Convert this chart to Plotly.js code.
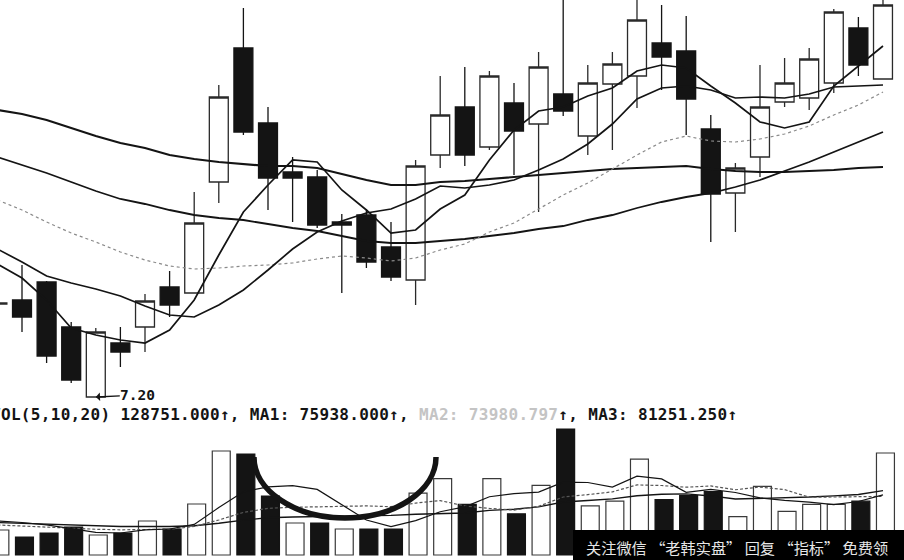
<!DOCTYPE html>
<html>
<head>
<meta charset="utf-8">
<script src="https://cdn.plot.ly/plotly-3.0.1.min.js"></script>
<style>
html,body{margin:0;padding:0;background:#fff;}
#chart{width:904px;height:560px;}
</style>
</head>
<body>
<div id="chart"></div>
<script>
// ---- data ----
const days = [0,1,2,3,4,5,6,7,8,9,10,11,12,13,14,15,16,17,18,19,20,21,22,23,24,25,26,27,28,29,30,31,32,33,34,35,36];
const open  = [8.13,8.17,8.35,7.90,7.20,7.74,7.90,8.30,8.24,9.35,10.69,9.94,9.45,9.40,8.95,9.02,8.70,8.37,9.62,10.10,9.70,10.14,9.93,10.23,9.81,10.33,10.41,10.74,10.66,9.88,9.24,9.60,10.15,10.19,10.34,10.89,10.38];
const high  = [8.17,8.52,8.36,7.95,7.89,7.90,8.23,8.46,9.25,10.32,11.09,10.10,9.60,9.47,9.03,9.08,8.95,9.57,10.41,10.50,10.46,10.34,10.65,11.27,10.52,10.65,11.20,11.12,11.01,10.02,9.54,10.52,10.59,10.69,11.08,11.00,11.19];
const low   = [8.11,7.85,7.54,7.34,7.20,7.50,7.65,8.00,8.24,9.14,9.82,9.07,8.95,8.89,8.24,8.49,8.36,8.12,9.49,9.51,9.67,9.42,9.05,10.01,9.62,9.67,10.09,10.27,9.82,8.75,8.85,9.40,10.10,10.07,10.24,10.41,10.38];
const close = [8.14,8.00,7.61,7.37,7.85,7.65,8.16,8.12,8.94,10.20,9.85,9.39,9.39,8.92,8.92,8.55,8.40,9.51,10.02,9.62,10.41,9.86,10.50,10.06,10.34,10.53,10.97,10.60,10.18,9.23,9.49,10.10,10.34,10.58,11.05,10.52,11.12];

const ma5   = [8.53,8.39,8.17,7.89,7.82,7.77,7.74,7.87,8.17,8.62,9.05,9.32,9.57,9.55,9.27,9.07,8.84,8.87,9.08,9.22,9.57,9.87,10.06,10.10,10.21,10.29,10.46,10.52,10.49,10.31,10.14,9.95,9.89,9.95,10.31,10.51,10.71];
const ma10  = [8.68,8.55,8.41,8.34,8.28,8.21,8.11,8.02,8.00,8.12,8.27,8.47,8.68,8.85,8.96,9.04,9.08,9.18,9.31,9.29,9.32,9.37,9.47,9.58,9.73,9.93,10.18,10.29,10.31,10.27,10.19,10.20,10.19,10.23,10.30,10.31,10.32];
const ma20  = [9.17,9.07,8.95,8.84,8.75,8.65,8.57,8.51,8.48,8.49,8.51,8.52,8.54,8.58,8.61,8.59,8.56,8.59,8.67,8.73,8.85,8.94,9.08,9.22,9.34,9.48,9.62,9.75,9.81,9.76,9.75,9.78,9.83,9.91,10.02,10.12,10.25];
const ma60  = [9.60,9.52,9.44,9.35,9.26,9.18,9.13,9.07,9.02,8.99,8.97,8.93,8.89,8.86,8.81,8.76,8.74,8.74,8.76,8.78,8.81,8.84,8.88,8.91,8.97,9.02,9.09,9.15,9.20,9.24,9.30,9.37,9.46,9.55,9.65,9.75,9.85];
const ma120 = [10.07,10.03,9.97,9.89,9.81,9.74,9.69,9.62,9.58,9.55,9.53,9.51,9.51,9.49,9.43,9.37,9.32,9.32,9.35,9.36,9.38,9.40,9.42,9.44,9.46,9.48,9.49,9.50,9.51,9.48,9.46,9.45,9.45,9.46,9.47,9.49,9.50];

const volume = [31560,22720,27770,35340,25250,27770,42920,32820,64380,131270,127490,74470,40390,40390,32820,32820,32820,78000,96500,64000,96500,52000,88000,159000,62000,68000,121000,70000,75000,80000,48500,86500,55000,64000,64000,68000,128751];
const volUp  = [1,0,0,0,1,0,1,0,1,1,0,0,1,0,1,0,0,1,1,0,1,0,1,0,1,1,1,0,0,0,1,1,1,1,1,0,1];
const vma5  = [42900,41000,38000,33000,28530,27770,31810,32820,38630,59830,79780,86090,87600,82800,63110,44180,35850,43370,54590,60830,73560,77400,79400,91900,91500,85800,99600,96000,79200,82800,78900,72000,69000,66800,63600,67500,75938];
const vma10 = [37900,36500,35000,33500,32500,31800,31800,32500,36000,44180,53773,58948,60210,60715,61472,61977,60967,65485,68697,61970,58871,56624,61385,73246,76164,79682,88500,87700,85550,87150,82350,85800,82500,73000,73200,73200,73980.797];
const vma20 = [41000,40000,39000,38000,37000,36000,36000,36000,37000,40000,44000,47000,48000,48500,49000,49500,50000,51500,52500,53075,56322,57786,60798,66981,68818,70830,74734,76593,77124,74560,70611,71212,71943,73123,74682,76441,81251.25];

const lowMark = {day: 4, price: 7.20, label: '7.20'};
const watermark = '关注微信 “老韩实盘” 回复 “指标” 免费领';

// ---- build ----
const last = days.length - 1;
const fmt = v => v.toFixed(3);
const header = 'VOL(5,10,20) ' + fmt(volume[last]) + '↑, MA1: ' + fmt(vma5[last]) +
  '↑, <span style="color:#c4c4c4">MA2: ' + fmt(vma10[last]) + '</span>↑, MA3: ' + fmt(vma20[last]) + '↑';

const ink = '#141414';
const traces = [
  {type:'scatter', mode:'lines', x:days, y:ma120, line:{color:ink, width:2.2}, hoverinfo:'skip'},
  {type:'scatter', mode:'lines', x:days, y:ma60,  line:{color:ink, width:1.8}, hoverinfo:'skip'},
  {type:'scatter', mode:'lines', x:days, y:ma20,  line:{color:'#8a8a8a', width:1.2, dash:'3px,3px'}, hoverinfo:'skip'},
  {type:'scatter', mode:'lines', x:days, y:ma10,  line:{color:ink, width:1.7}, hoverinfo:'skip'},
  {type:'scatter', mode:'lines', x:days, y:ma5,   line:{color:ink, width:1.7}, hoverinfo:'skip'},
  {type:'candlestick', x:days, open:open, high:high, low:low, close:close,
   increasing:{line:{color:'#2a2a2a', width:1.3}, fillcolor:'#ffffff'},
   decreasing:{line:{color:ink, width:1.3}, fillcolor:ink},
   whiskerwidth:0, hoverinfo:'skip'},
  {type:'bar', x:days, y:volume, xaxis:'x', yaxis:'y2', width:0.73, offset:-0.265,
   marker:{color:volUp.map(u => u ? '#ffffff' : ink), line:{color:volUp.map(u => u ? '#3a3a3a' : ink), width:1.2}},
   hoverinfo:'skip'},
  {type:'scatter', mode:'lines', x:days, y:vma20, xaxis:'x', yaxis:'y2', line:{color:ink, width:1.4}, hoverinfo:'skip'},
  {type:'scatter', mode:'lines', x:days, y:vma10, xaxis:'x', yaxis:'y2', line:{color:'#555', width:1.2, dash:'3px,2px'}, hoverinfo:'skip'},
  {type:'scatter', mode:'lines', x:days, y:vma5,  xaxis:'x', yaxis:'y2', line:{color:ink, width:1.2}, hoverinfo:'skip'}
];

const layout = {
  width:904, height:560, autosize:false,
  margin:{l:0, r:0, t:0, b:0, pad:0},
  paper_bgcolor:'#ffffff', plot_bgcolor:'#ffffff',
  showlegend:false, hovermode:false,
  boxgap:0.23, boxgroupgap:0,
  xaxis:{range:[0.1057, 36.854], visible:false, rangeslider:{visible:false}, fixedrange:true},
  yaxis:{range:[5.57, 11.17], visible:false, fixedrange:true},
  yaxis2:{range:[-6311, 700549], overlaying:'y', visible:false, fixedrange:true},
  shapes:[
    {type:'path', xref:'x', yref:'y2', layer:'above',
     path:'M 10.43,123700 C 10.43,81200 12.09,46700 14.13,46700 C 16.17,46700 17.83,81200 17.83,123700',
     line:{color:ink, width:5.5}},
    {type:'rect', xref:'paper', yref:'paper', x0:573/904, x1:1, y0:0, y1:30/560, layer:'above',
     fillcolor:'#000000', line:{width:0}}
  ],
  annotations:[
    {xref:'paper', yref:'paper', x:-10.4/904, y:1-414/560, xanchor:'left', yanchor:'middle', borderpad:0,
     text:'<b><span style="letter-spacing:0.32px">'+header+'</span></b>', showarrow:false,
     font:{family:'DejaVu Sans Mono', size:16, color:ink}},
    {xref:'x', yref:'y', x:lowMark.day, y:lowMark.price, text:'<b>'+lowMark.label+'</b>', borderpad:0,
     showarrow:true, ax:42, ay:-2, arrowhead:1, arrowsize:1, arrowwidth:1.4, arrowcolor:ink, standoff:0,
     font:{family:'DejaVu Sans Mono', size:14.5, color:ink}},
    {xref:'paper', yref:'paper', x:737/904, y:13.5/560, xanchor:'center', yanchor:'middle', borderpad:0,
     text:watermark, showarrow:false, font:{family:'Noto Sans CJK SC', size:15.2, color:'#e6e6e6'}}
  ]
};

Plotly.newPlot('chart', traces, layout, {displayModeBar:false, staticPlot:true});
</script>
</body>
</html>
